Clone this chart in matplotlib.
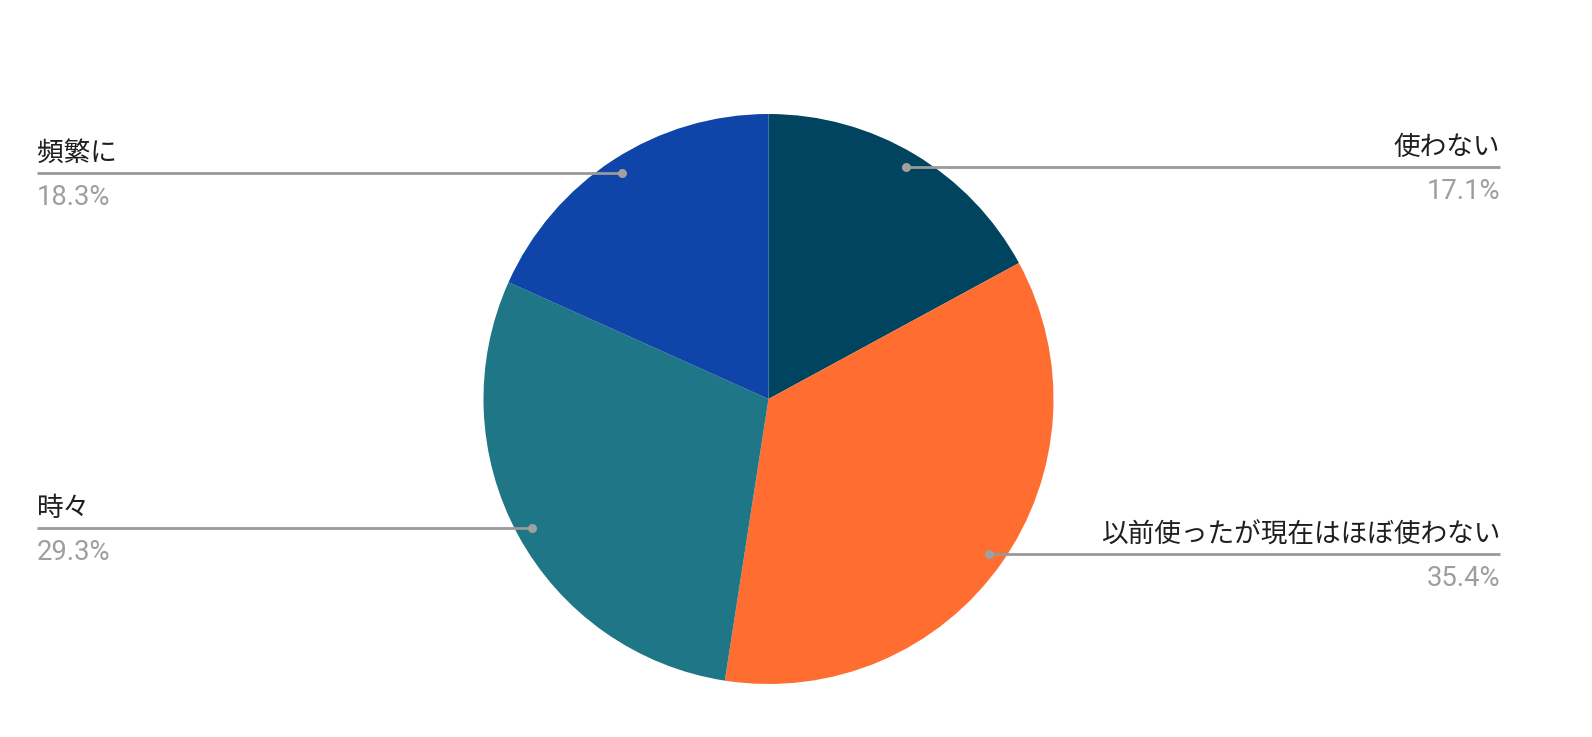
import numpy as np
import matplotlib
matplotlib.use("Agg")
import matplotlib.pyplot as plt

labels = ["使わない", "以前使ったが現在はほぼ使わない", "時々", "頻繁に"]
values = [17.1, 35.4, 29.3, 18.3]
colors = ["#01445f", "#ff6d31", "#1e7686", "#0f45a8"]

W, H = 1592, 737
cx, cy, r = 768.5, H - 399, 285

fig = plt.figure(figsize=(W / 100, H / 100), dpi=100)
ax = fig.add_axes([0, 0, 1, 1])

wedges, _ = ax.pie(values, colors=colors, startangle=90, counterclock=False,
                   center=(cx, cy), radius=r, frame=True,
                   wedgeprops=dict(linewidth=0))
ax.set_xlim(0, W)
ax.set_ylim(0, H)
ax.set_aspect("equal")
ax.axis("off")

for w, lab, v in zip(wedges, labels, values):
    ang = np.deg2rad((w.theta1 + w.theta2) / 2)
    dx = cx + 0.946 * r * np.cos(ang)
    dy = cy + 0.946 * r * np.sin(ang)
    if np.cos(ang) >= 0:
        x_end, ha = 1500, "right"
    else:
        x_end, ha = 37, "left"
    ax.plot([dx, x_end], [dy, dy], color="#999999", lw=2.0, solid_capstyle="butt", zorder=3)
    ax.plot(dx, dy, "o", color="#a0a0a0", ms=6.5, mec="none", zorder=4)
    ax.text(x_end, dy + 6, lab, ha=ha, va="bottom", fontsize=19.2,
            family=["Noto Sans CJK JP", "DejaVu Sans"], color="#1f1f1f")
    ax.text(x_end, dy - 11, f"{v}%", ha=ha, va="top", fontsize=19.8,
            family=["Roboto", "DejaVu Sans"], color="#9e9e9e")

fig.savefig("out.png", dpi=100, facecolor="white")
